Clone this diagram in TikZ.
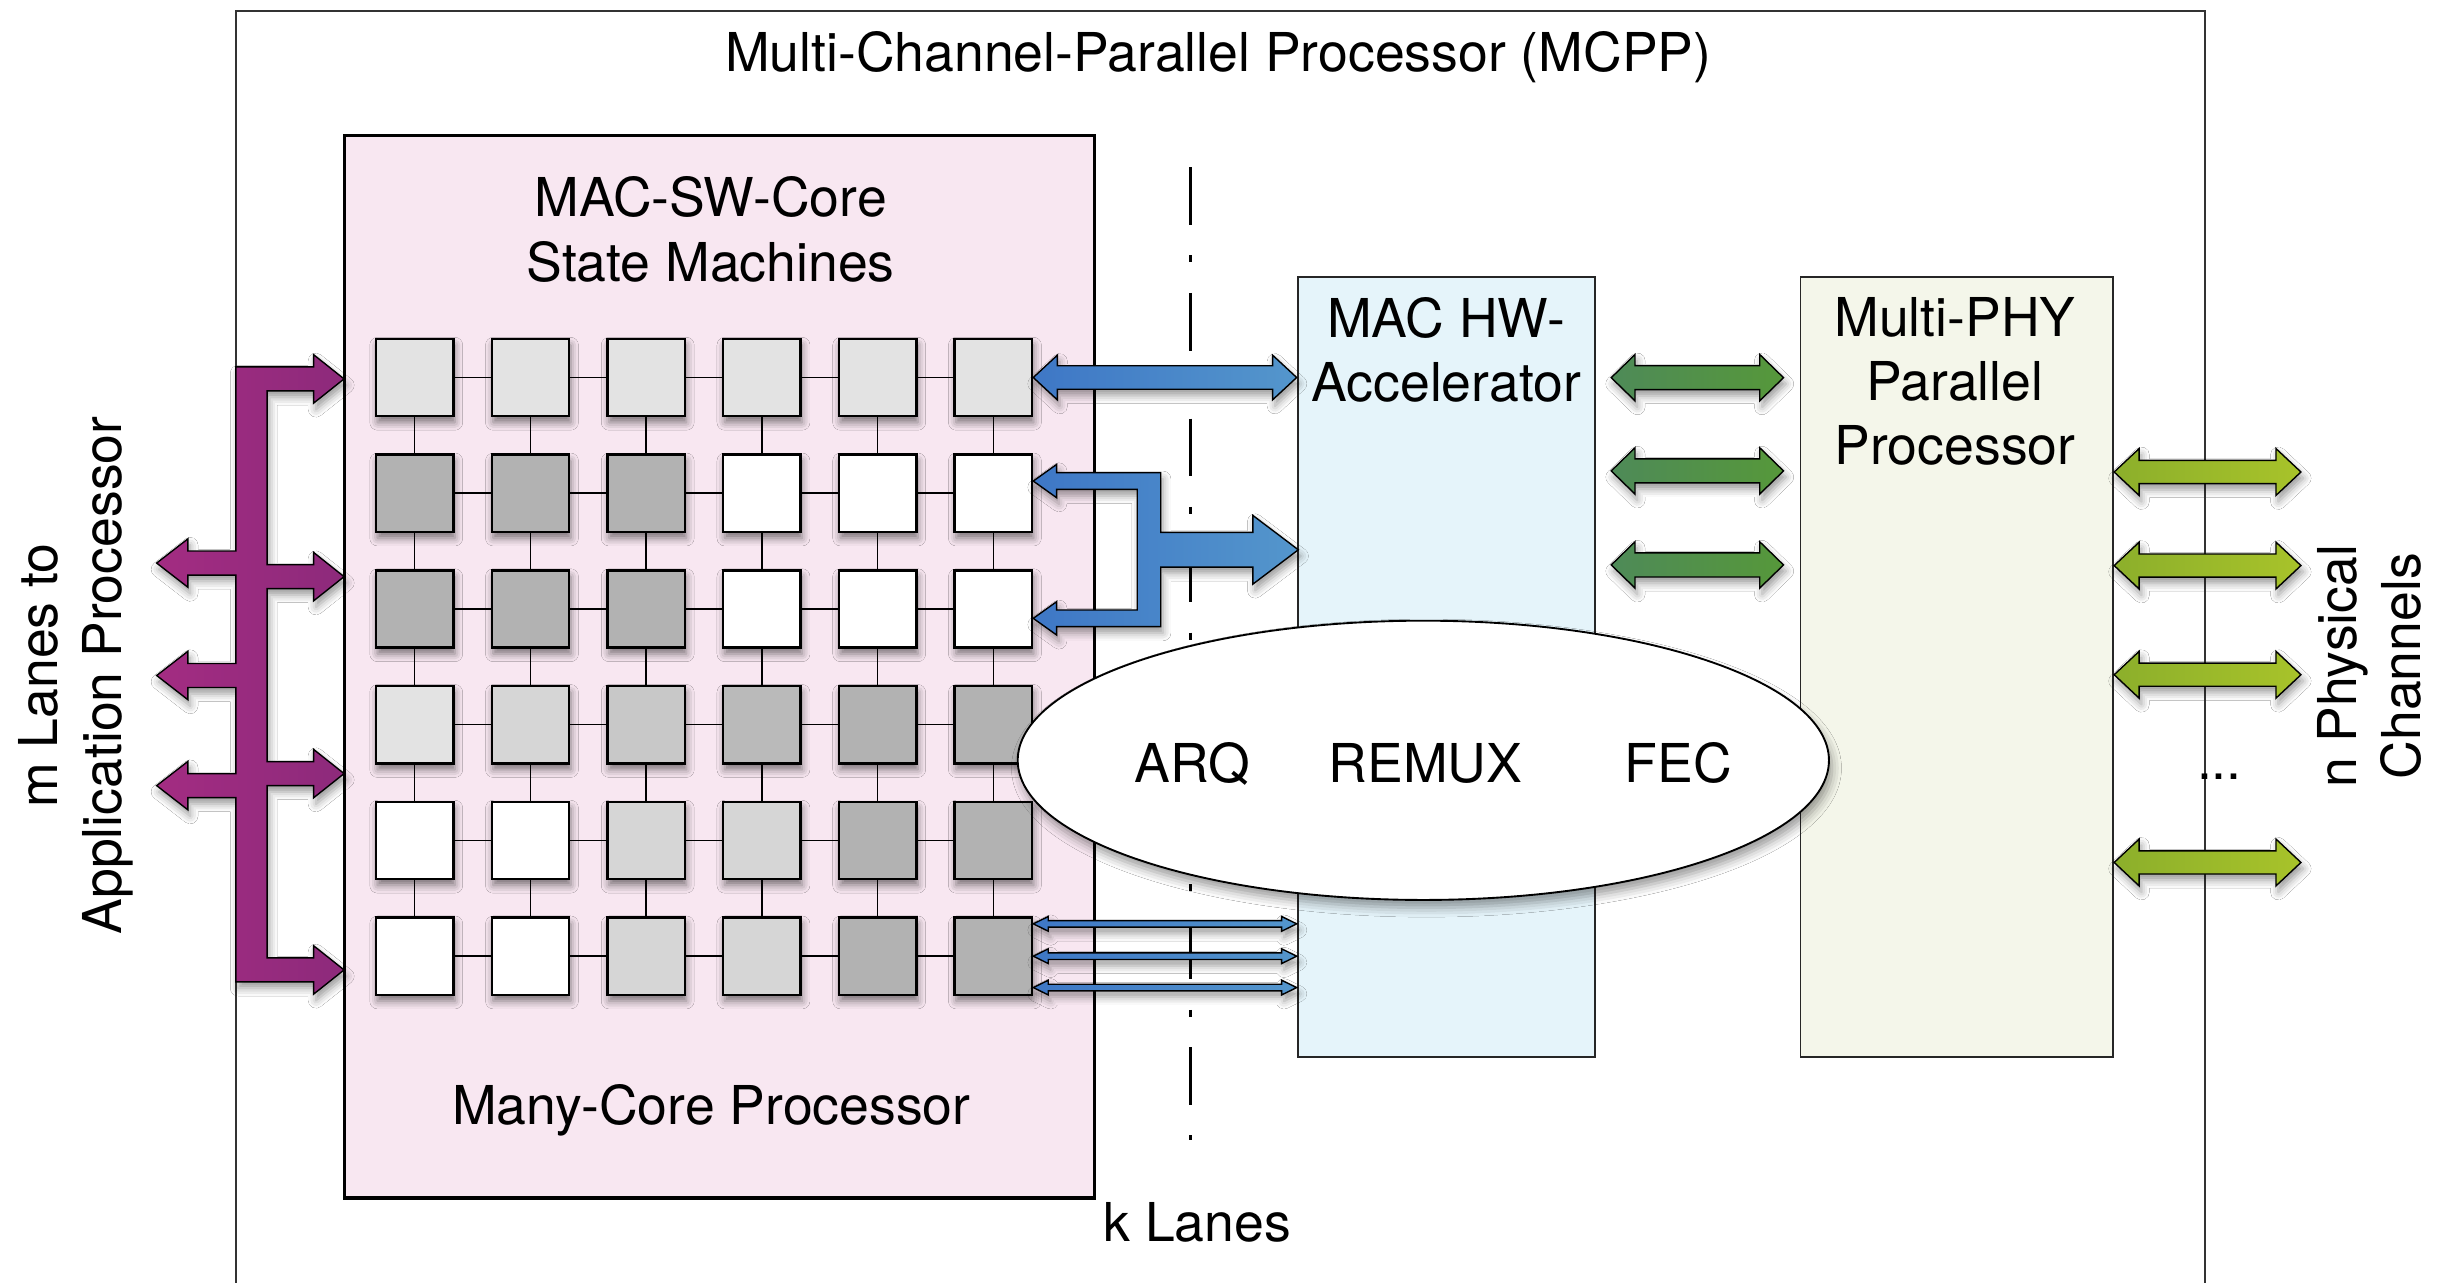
\documentclass[tikz,border=0pt]{standalone}
\usepackage{fontspec}
\setmainfont{TeX Gyre Heros}
\usetikzlibrary{calc,positioning,shapes.geometric,shadows.blur}

\definecolor{pinkbg}{HTML}{F8E7F1}
\definecolor{hwbg}{HTML}{E5F4FA}
\definecolor{phybg}{HTML}{F4F6EA}
\definecolor{coreA}{HTML}{E3E3E3}
\definecolor{coreB}{HTML}{D6D6D6}
\definecolor{coreC}{HTML}{C8C8C8}
\definecolor{coreD}{HTML}{BABABA}
\definecolor{coreE}{HTML}{B2B2B2}
\definecolor{purpleL}{HTML}{A32C82}
\definecolor{purpleR}{HTML}{8D2A7B}
\definecolor{blueL}{HTML}{3E77C6}
\definecolor{blueR}{HTML}{5496CC}
\definecolor{greenL}{HTML}{4E8A58}
\definecolor{greenR}{HTML}{56983A}
\definecolor{limeL}{HTML}{8CAF2B}
\definecolor{limeR}{HTML}{A8C32A}

\tikzset{
  txt/.style={font=\fontsize{34.3pt}{41.2pt}\selectfont, inner sep=0pt},
  core/.style={draw, line width=1.6pt, minimum size=49.5pt, inner sep=0pt,
    blur shadow={shadow xshift=1pt, shadow yshift=-4pt, shadow blur radius=5pt, shadow opacity=50}},
  link/.style={line width=1pt},
  unit/.style={draw=black!85, line width=1.2pt, minimum height=499.8pt},
  fat/.style={draw, line width=0.9pt, left color=#1L, right color=#1R,
    blur shadow={shadow xshift=1.5pt, shadow yshift=-4pt, shadow blur radius=5pt}},
  kline/.style={line width=2pt, dash pattern=on 37pt off 19.5pt on 4.5pt off 19.5pt}
}

% double headed block arrow: style, left tip, right tip, shaft half, head length, head half
\newcommand{\dblarrow}[6]{%
  \path[#1] (#2) -- ($(#2)+(#5,-#6)$) -- ($(#2)+(#5,-#4)$) -- ($(#3)+(-#5,-#4)$)
    -- ($(#3)+(-#5,-#6)$) -- (#3) -- ($(#3)+(-#5,#6)$) -- ($(#3)+(-#5,#4)$)
    -- ($(#2)+(#5,#4)$) -- ($(#2)+(#5,#6)$) -- cycle;}

\begin{document}
\begin{tikzpicture}[x=1pt, y=-1pt, every node/.style={txt}]
  \path[use as bounding box, fill=white] (0,0) rectangle (1568,821);

  \node[draw=black!80, line width=1.3pt, minimum width=1260.5pt, minimum height=900pt] (mcpp) at (781.25,457) {};
  \node[anchor=base] (title) at (780,46) {Multi-Channel-Parallel Processor (MCPP)};

  \node[draw, line width=2pt, fill=pinkbg, minimum width=480.7pt, minimum height=680pt] (sw) at (460.65,427) {};
  \node[anchor=base, align=center] (swtitle) at (455,180) {MAC-SW-Core\\State Machines};
  \node[anchor=base] (swfoot) at (455.5,720.2) {Many-Core Processor};

  \node[unit, fill=hwbg, minimum width=190.5pt] (hw) at (926.05,427) {};
  \node[unit, fill=phybg, minimum width=200.2pt, right=130.3pt of hw] (phy) {};
  \node[anchor=base, align=center] (hwtxt) at (926,257.2) {MAC HW-\\Accelerator};
  \node[anchor=base, align=center] (phytxt) at (1251.7,297.7) {Multi-PHY\\Parallel\\Processor};

  \coordinate (ktop) at (762,107);
  \coordinate (kbot) at (762,730);
  \draw[kline] (ktop) -- (kbot);
  \node[anchor=base] (klanes) at (766.5,795) {k Lanes};

  % cores
  \foreach \row/\shades in {0/{coreA,coreA,coreA,coreA,coreA,coreA},
                            1/{coreE,coreE,coreE,white,white,white},
                            2/{coreE,coreE,coreE,white,white,white},
                            3/{coreA,coreB,coreC,coreD,coreE,coreE},
                            4/{white,white,coreB,coreB,coreE,coreE},
                            5/{white,white,coreB,coreB,coreE,coreE}}
    \foreach \shade [count=\col from 0] in \shades
      \node[core, fill=\shade] (c-\row-\col) at ({265.5+74.1*\col},{241.7+74.1*\row}) {};

  \foreach \row in {0,...,5} {
    \foreach \col [evaluate=\col as \nc using int(\col+1)] in {0,...,4} {
      \draw[link] (c-\row-\col.east) -- (c-\row-\nc.west);
      \draw[link] (c-\col-\row.south) -- (c-\nc-\row.north);
    }
  }

  % lanes to application processor
  \draw[fat=purple] (151,234.9)
    \foreach \y in {242.6,369.2,495.3,621} {
      -- (171,{\y-7.7}) -- ++(29.8,0) -- ++(0,-7.8) -- ++(19.5,15.5) -- ++(-19.5,15.5) -- ++(0,-7.8) -- ++(-29.8,0) }
    -- (151,628.7)
    \foreach \y in {503,432.5,360.5} {
      -- (151,{\y+7.7}) -- ++(-30.7,0) -- ++(0,7.8) -- ++(-20,-15.5) -- ++(20,-15.5) -- ++(0,7.8) -- ++(30.7,0) }
    -- cycle;

  % k lanes to accelerator
  \dblarrow{fat=blue}{c-0-5.east}{c-0-5.east -| hw.west}{7.5}{15.4}{14.3}
  \draw[fat=blue] ($(c-1-5.east)+(0,-7.8)$) -- ++(15,-10.7) -- ++(0,5.35) -- ++(66.6,0) -- ++(0,38.25)
    -- ++(59,0) -- ++(0,-10.9) -- ++(29.1,22) -- ++(-29.1,22) -- ++(0,-10.9) -- ++(-59,0)
    -- ++(0,38.15) -- ++(-66.6,0) -- ++(0,5.35) -- ++(-15,-10.7) -- ++(15,-10.7) -- ++(0,5.35)
    -- ++(51.6,0) -- ++(0,-77.2) -- ++(-51.6,0) -- ++(0,5.35) -- cycle;
  \foreach \dy [count=\k] in {-20.7,0,20.1} {
    \coordinate (ka\k) at ($(c-5-5.east)+(0,\dy)$);
    \dblarrow{fat=blue}{ka\k}{ka\k -| hw.west}{2.1}{9.6}{4.7}
  }

  % accelerator to multi-phy
  \foreach \y [count=\k] in {241.8,301.5,361.7} {
    \coordinate (g\k) at ($(hw.east |- 0,\y)+(9.7,0)$);
    \coordinate (h\k) at ($(phy.west |- 0,\y)+(-10.3,0)$);
    \dblarrow{fat=green}{g\k}{h\k}{7.7}{15.2}{14.8}
  }

  % physical channels
  \foreach \y [count=\k] in {302.2,362.1,432,552.2} {
    \coordinate (p\k) at (phy.east |- 0,\y);
    \coordinate (ch\k) at ($(p\k)+(119.6,0)$);
    \dblarrow{fat=lime}{p\k}{ch\k}{7.4}{16}{15}
  }
  \node[anchor=base] (dots) at (1421,499) {...};

  \node[ellipse, draw, line width=1.2pt, fill=white, minimum width=519.4pt, minimum height=178.8pt,
    blur shadow={shadow xshift=2pt, shadow yshift=-5pt, shadow blur radius=6pt}] (funcs) at (911.3,486.8) {};
  \node[anchor=base] (arq) at (763.5,501.1) {ARQ};
  \node[anchor=base] (remux) at (912.6,501.1) {REMUX};
  \node[anchor=base] (fec) at (1074.6,501.1) {FEC};

  \node[rotate=90, align=center] (mlanes) at (48.5,432.5) {m Lanes to\\Application Processor};
  \node[rotate=90, align=center] (nchan) at (1517,426.5) {n Physical\\Channels};
\end{tikzpicture}
\end{document}
